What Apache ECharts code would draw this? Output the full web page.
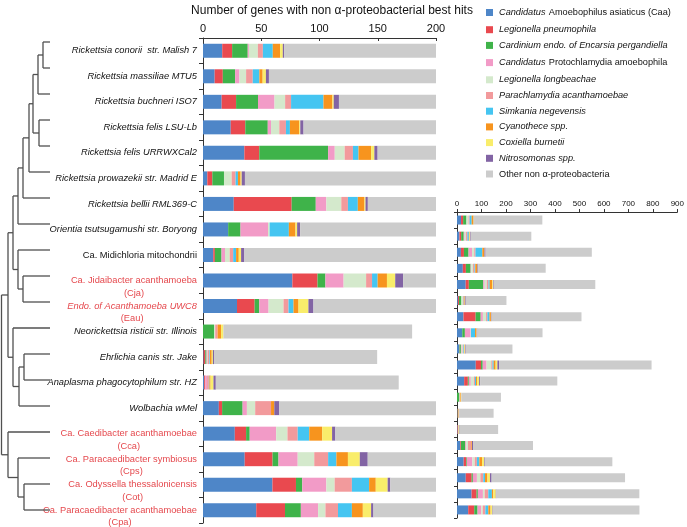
<!DOCTYPE html>
<html>
<head>
<meta charset="utf-8">
<script src="https://cdn.jsdelivr.net/npm/echarts@6/dist/echarts.min.js"></script>
<style>html,body{margin:0;padding:0;background:#fff}#c{width:687px;height:527px}</style>
</head>
<body>
<div id="c"></div>
<script>
// ---------- data ----------
const taxa = [
  'Rickettsia conorii  str. Malish 7', 'Rickettsia massiliae MTU5', 'Rickettsia buchneri ISO7',
  'Rickettsia felis LSU-Lb', 'Rickettsia felis URRWXCal2', 'Rickettsia prowazekii str. Madrid E',
  'Rickettsia bellii RML369-C', 'Orientia tsutsugamushi str. Boryong', 'Ca. Midichloria mitochondrii',
  'Ca. Jidaibacter acanthamoeba', 'Endo. of Acanthamoeba UWC8', 'Neorickettsia risticii str. Illinois',
  'Ehrlichia canis str. Jake', 'Anaplasma phagocytophilum str. HZ', 'Wolbachia wMel',
  'Ca. Caedibacter acanthamoebae', 'Ca. Paracaedibacter symbiosus', 'Ca. Odyssella thessalonicensis',
  'Ca. Paracaedibacter acanthamoebae'
];
const abbrev = ['', '', '', '', '', '', '', '', '', '(Cja)', '(Eau)', '', '', '', '', '(Cca)', '(Cps)', '(Cot)', '(Cpa)'];
const labelStyle = ['i','i','i','i','i','i','i','i','n','r','ri','i','i','i','i','r','r','r','r'];

const groupNames = [
  'Candidatus Amoebophilus asiaticus (Caa)', 'Legionella pneumophila', 'Cardinium endo. of Encarsia pergandiella',
  'Candidatus Protochlamydia amoebophila', 'Legionella longbeachae', 'Parachlamydia acanthamoebae',
  'Simkania negevensis', 'Cyanothece spp.', 'Coxiella burnetii', 'Nitrosomonas spp.', 'Other non α-proteobacteria'
];
const groupColors = ['#4e86c8','#e9494f','#3fb34a','#f29bc7','#d4e9cc','#f29a9c','#45c5f1','#f7941e','#f9ed6b','#8264a4','#cccccc'];

const caa = [16.5,10,16,23.8,35.5,3.7,26.4,21.6,8.8,76.7,29.2,0,0.5,1,13.6,27.3,35.8,59.6,45.7];
const lpn = [8.5,7,12.4,12.5,12.8,4.3,49.7,0,1.4,21.6,15.1,0,1.5,1,2.8,9.7,23.9,20.2,24.7];
const car = [13.4,10.6,18.8,19.3,59.1,10,20.7,10.6,5.7,6.8,4,9.5,1,0,17.6,3.1,5.1,5.4,13.6];
const pam = [1,3.7,14.2,2.8,5.7,0,9.1,23.6,3,15.6,8,0,0.5,1.5,3.7,22.7,16.5,20.7,14.8];
const llo = [7.7,5.7,9.1,7.1,8.5,6.6,12.8,1.4,4,19.3,12.8,1,0.5,0,7.1,9.7,14.2,7.1,6.3];
const pac = [4.3,5.7,5.1,5.7,7.1,3.4,5.7,0,3,5.1,4.3,2,1.5,1.5,13.6,8.8,11.9,14.8,10.8];
const sim = [8.5,5.7,27.8,3.4,4.8,2,8.5,16.5,2.5,4.8,4.3,0,0.5,0.5,0,9.9,7.1,14.8,11.9];
const cya = [6.3,2.8,7.7,8,10.8,2.3,5.7,5.7,2.3,8,4.3,3,1.5,1,2.8,11.1,9.9,5.7,9.4];
const cox = [2.3,2.8,1.1,0.9,2.8,0.9,0.9,1.4,2,7.1,8.5,2,1,2.5,0,8.5,10.2,10.2,7.1];
const nit = [1.1,2.6,4.5,2.8,2.8,2.8,2,2.6,2.8,6.8,4.3,0,1,2,4.3,2.8,6.8,2.3,2];
const oth = [279,247,434,276,415,166,367,266,191,623,315,162,140,157,245,521,545,584,599];
const seriesValues = [caa,lpn,car,pam,llo,pac,sim,cya,cox,nit,oth];

const mainTicks = [0, 50, 100, 150, 200];
const insetTicks = [0, 100, 200, 300, 400, 500, 600, 700, 800, 900];

// dendrogram: [node depth, child, child]; leaves are row indices
const tree = [1.5,
  [8,
    [13,
      [18, [23, [29, [33, [38, [43, 0, 1], 2], [39, 3, 4]], 5], 6], 7],
      [18, 8, [23, 9, 10]]
    ],
    [13, 11, [19, [24, 12, 13], 14]]
  ],
  [8, 15, [18, 16, [24, 17, 18]]]
];
const leafDepth = 50;

// ---------- helpers ----------
const FONT = '"Liberation Sans", Arial, sans-serif';
const LBL = 9.3;
const LEG = 9.2;
const ctx = document.createElement('canvas').getContext('2d');
function textW(t, italic) { ctx.font = (italic ? 'italic ' : '') + LBL + 'px ' + FONT; return ctx.measureText(t).width; }

const segs = [];
function walk(node) {
  if (typeof node === 'number') return { x: leafDepth, y: node };
  const d = node[0];
  const a = walk(node[1]), b = walk(node[2]);
  segs.push([d, a.y, d, b.y]);
  segs.push([d, a.y, a.x, a.y]);
  segs.push([d, b.y, b.x, b.y]);
  return { x: d, y: (a.y + b.y) / 2 };
}
walk(tree);

const LH = 12.5;
const rich = {
  i:  { fontFamily: FONT, fontSize: LBL, fontStyle: 'italic', color: '#111', lineHeight: LH },
  n:  { fontFamily: FONT, fontSize: LBL, color: '#111', lineHeight: LH },
  r:  { fontFamily: FONT, fontSize: LBL, color: '#e5484d', lineHeight: LH },
  ri: { fontFamily: FONT, fontSize: LBL, fontStyle: 'italic', color: '#e5484d', lineHeight: LH },
  e:  { fontFamily: FONT, fontSize: LBL, lineHeight: LH }
};
taxa.forEach((t, k) => {
  if (abbrev[k]) {
    rich['c' + k] = { fontFamily: FONT, fontSize: LBL, color: '#e5484d', lineHeight: LH,
      width: textW(t, labelStyle[k] === 'ri'), align: 'center' };
  }
});

function yLabel(value, idx) {
  const st = labelStyle[idx];
  if (abbrev[idx]) return '{e| }\n{' + st + '|' + taxa[idx] + '}\n{c' + idx + '|' + abbrev[idx] + '}';
  return '{' + st + '|' + taxa[idx] + '}';
}

const series = [];
groupNames.forEach((nm, g) => {
  series.push({ name: nm, type: 'bar', stack: 'main', xAxisIndex: 0, yAxisIndex: 0, barWidth: 14,
    itemStyle: { color: groupColors[g] }, data: seriesValues[g], clip: true, animation: false });
  series.push({ name: nm, type: 'bar', stack: 'inset', xAxisIndex: 1, yAxisIndex: 1, barWidth: 9,
    itemStyle: { color: groupColors[g] }, data: seriesValues[g], animation: false });
});
series.push({
  type: 'custom', xAxisIndex: 2, yAxisIndex: 2, data: segs, animation: false, silent: true,
  encode: { x: [0, 2], y: [1, 3] },
  renderItem: function (params, api) {
    const p1 = api.coord([api.value(0), api.value(1)]);
    const p2 = api.coord([api.value(2), api.value(3)]);
    return { type: 'line', shape: { x1: p1[0], y1: p1[1], x2: p2[0], y2: p2[1] },
      style: { stroke: '#505050', lineWidth: 1.3 } };
  }
});

const chart = echarts.init(document.getElementById('c'), null, { renderer: 'canvas' });
chart.setOption({
  animation: false,
  textStyle: { fontFamily: FONT },
  legend: {
    orient: 'vertical', left: 486, top: 6.5, padding: 0, itemWidth: 7, itemHeight: 7, itemGap: 6.7, icon: 'rect',
    data: groupNames,
    formatter: function (name) {
      if (name.indexOf('Candidatus ') === 0) return '{i|Candidatus} {n|' + name.slice(11) + '}';
      if (name.indexOf('Other') === 0) return '{n|' + name + '}';
      return '{i|' + name + '}';
    },
    textStyle: {
      padding: [0, 0, 0, 1],
      rich: {
        i: { fontFamily: FONT, fontSize: LEG, fontStyle: 'italic', color: '#111', lineHeight: 13 },
        n: { fontFamily: FONT, fontSize: LEG, color: '#111', lineHeight: 13 }
      }
    }
  },
  grid: [
    { left: 203, width: 233, top: 29, height: 494 },
    { left: 457, right: 8, top: 212, bottom: 9 },
    { left: 0, width: 50, top: 29, height: 494 }
  ],
  xAxis: [
    { type: 'value', gridIndex: 0, position: 'top', min: mainTicks[0], max: mainTicks[mainTicks.length - 1], interval: 50,
      name: 'Number of genes with non α-proteobacterial best hits', nameLocation: 'middle', nameGap: 21,
      nameTextStyle: { fontFamily: FONT, fontSize: 12, color: '#111', padding: [0, 0, 0, 25] },
      axisLine: { show: true, lineStyle: { color: '#333', width: 1 } },
      axisTick: { show: true, inside: true, length: 3, lineStyle: { color: '#333' } },
      splitLine: { show: false },
      axisLabel: { fontFamily: FONT, fontSize: 11, color: '#111', margin: 4 } },
    { type: 'value', gridIndex: 1, position: 'top', min: insetTicks[0], max: insetTicks[insetTicks.length - 1], interval: 100,
      axisLine: { show: true, lineStyle: { color: '#333', width: 1 } },
      axisTick: { show: true, length: 3, lineStyle: { color: '#333' } },
      splitLine: { show: false },
      axisLabel: { fontFamily: FONT, fontSize: 8, color: '#111', margin: 4 } },
    { type: 'value', gridIndex: 2, min: 0, max: 50, show: false }
  ],
  yAxis: [
    { type: 'category', gridIndex: 0, inverse: true, data: taxa,
      axisLine: { show: true, lineStyle: { color: '#333', width: 1 } },
      axisTick: { show: true, length: 4, lineStyle: { color: '#333' } },
      axisLabel: { margin: 6, formatter: yLabel, rich: rich, interval: 0 } },
    { type: 'category', gridIndex: 1, inverse: true, data: taxa,
      axisLine: { show: true, lineStyle: { color: '#333', width: 1 } },
      axisTick: { show: true, length: 3, lineStyle: { color: '#333' } },
      axisLabel: { show: false } },
    { type: 'value', gridIndex: 2, inverse: true, min: -0.5, max: taxa.length - 0.5, show: false }
  ],
  series: series
});
</script>
</body>
</html>
